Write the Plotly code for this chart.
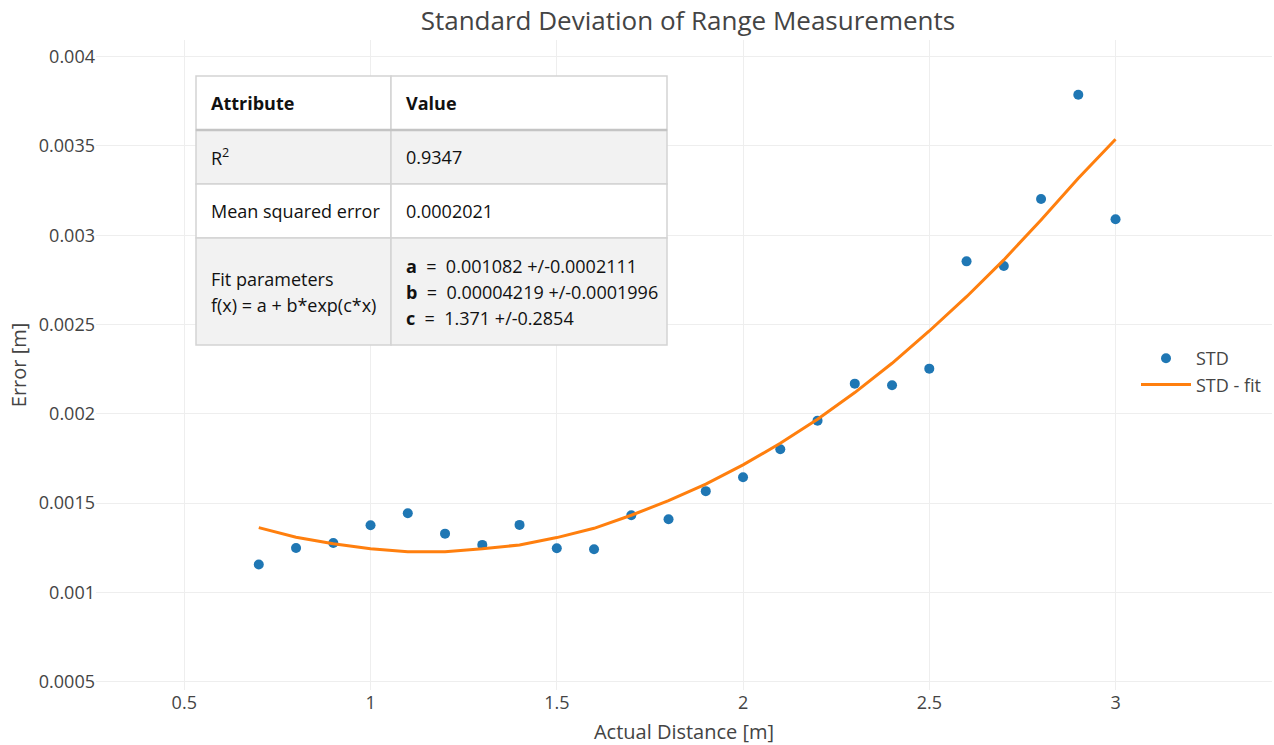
import plotly.graph_objects as go

# Measured standard deviation of the range readings per distance step
distance = [0.7, 0.8, 0.9, 1.0, 1.1, 1.2, 1.3, 1.4, 1.5, 1.6, 1.7, 1.8,
            1.9, 2.0, 2.1, 2.2, 2.3, 2.4, 2.5, 2.6, 2.7, 2.8, 2.9, 3.0]
std_values = [0.001156, 0.001249, 0.001277, 0.001376, 0.001443, 0.001329,
              0.001266, 0.001378, 0.001247, 0.001242, 0.001432, 0.001410,
              0.001567, 0.001645, 0.001802, 0.001962, 0.002169, 0.002160,
              0.002253, 0.002854, 0.002828, 0.003203, 0.003787, 0.003090]
fit_values = [0.001363, 0.001309, 0.001272, 0.001244, 0.001228, 0.001228,
              0.001244, 0.001266, 0.001307, 0.001359, 0.001432, 0.001514,
              0.001606, 0.001714, 0.001835, 0.001970, 0.002119, 0.002283,
              0.002464, 0.002656, 0.002862, 0.003086, 0.003319, 0.003538]

# Fit summary table
table_header = ["Attribute", "Value"]
table_attributes = ["R<sup>2</sup>", "Mean squared error",
                    "Fit parameters<br>f(x) = a + b*exp(c*x)"]
table_values = ["0.9347", "0.0002021",
                "<b>a</b>  =  0.001082 +/-0.0002111<br>"
                "<b>b</b>  =  0.00004219 +/-0.0001996<br>"
                "<b>c</b>  =  1.371 +/-0.2854"]

FONT = "Open Sans, Verdana, sans-serif"
W, H = 1274, 745
ML, MR, MT, MB = 96, 2, 40, 55
PW, PH = W - ML - MR, H - MT - MB

# Table geometry in pixels
TBL_LEFT, TBL_TOP = 196, 76
COL_W = [195, 276]
ROW_H = [54, 54, 54, 107]
CELL_PAD = 13
LINE_STEP = 26
ROW_FILL = ["white", "#f2f2f2", "white", "#f2f2f2"]
GRID_LINE = "#d3d3d3"


def px_x(p):
    return (p - ML) / PW


def px_y(p):
    return (H - MB - p) / PH


fig = go.Figure()

fig.add_trace(go.Scatter(
    x=distance, y=std_values, mode="markers", name="STD",
    marker=dict(color="#1f77b4", size=10),
))
fig.add_trace(go.Scatter(
    x=distance, y=fit_values, mode="lines", name="STD - fit",
    line=dict(color="#ff7f0e", width=3),
))

# Table: header row followed by the attribute/value rows
rows = [["<b>%s</b>" % h for h in table_header]] + [
    [a, v] for a, v in zip(table_attributes, table_values)
]
col_x = [TBL_LEFT]
for w in COL_W:
    col_x.append(col_x[-1] + w)
row_y = [TBL_TOP]
for h in ROW_H:
    row_y.append(row_y[-1] + h)

shapes = []
annotations = []
for r, row in enumerate(rows):
    y0, y1 = row_y[r], row_y[r + 1]
    for c, text in enumerate(row):
        x0, x1 = col_x[c], col_x[c + 1]
        shapes.append(dict(
            type="rect", xref="paper", yref="paper", layer="above",
            x0=px_x(x0), x1=px_x(x1), y0=px_y(y1), y1=px_y(y0),
            fillcolor=ROW_FILL[r], line=dict(color=GRID_LINE, width=1.5),
        ))
        # each text line is placed on its own, centred as a block in the cell
        lines = text.split("<br>")
        mid = (y0 + y1) / 2
        for k, line in enumerate(lines):
            ly = mid + (k - (len(lines) - 1) / 2) * LINE_STEP
            annotations.append(dict(
                xref="paper", yref="paper", showarrow=False,
                x=px_x(x0 + CELL_PAD), y=px_y(ly),
                xanchor="left", yanchor="middle", align="left",
                text=line, font=dict(family=FONT, size=18, color="#111111"),
            ))
# heavier rule under the header
shapes.append(dict(
    type="line", xref="paper", yref="paper", layer="above",
    x0=px_x(col_x[0]), x1=px_x(col_x[-1]),
    y0=px_y(row_y[1]), y1=px_y(row_y[1]),
    line=dict(color="#c4c4c4", width=2.5),
))

fig.update_layout(
    width=W, height=H,
    margin=dict(l=ML, r=MR, t=MT, b=MB, pad=0),
    paper_bgcolor="white", plot_bgcolor="white",
    font=dict(family=FONT, size=18, color="#444444"),
    title=dict(text="Standard Deviation of Range Measurements",
               x=0.54, xanchor="center", y=0.972, yanchor="middle",
               font=dict(size=26, color="#444444")),
    xaxis=dict(
        title=dict(text="Actual Distance [m]", font=dict(size=20)),
        range=[0.263, 3.42], dtick=0.5, tick0=0.5,
        showgrid=True, gridcolor="#eeeeee", zeroline=False,
        showline=False, ticks="", tickfont=dict(size=18),
    ),
    yaxis=dict(
        title=dict(text="Error [m]", font=dict(size=20), standoff=6),
        range=[0.0004535, 0.0040935], dtick=0.0005, tick0=0,
        showgrid=True, gridcolor="#eeeeee", zeroline=False,
        showline=False, ticks="", tickfont=dict(size=18),
    ),
    legend=dict(x=px_x(1136), y=px_y(340), xanchor="left", yanchor="top",
                bgcolor="rgba(255,255,255,0)", font=dict(size=18),
                itemwidth=50),
    shapes=shapes,
    annotations=annotations,
    showlegend=True,
)

fig.write_html("out.html")
